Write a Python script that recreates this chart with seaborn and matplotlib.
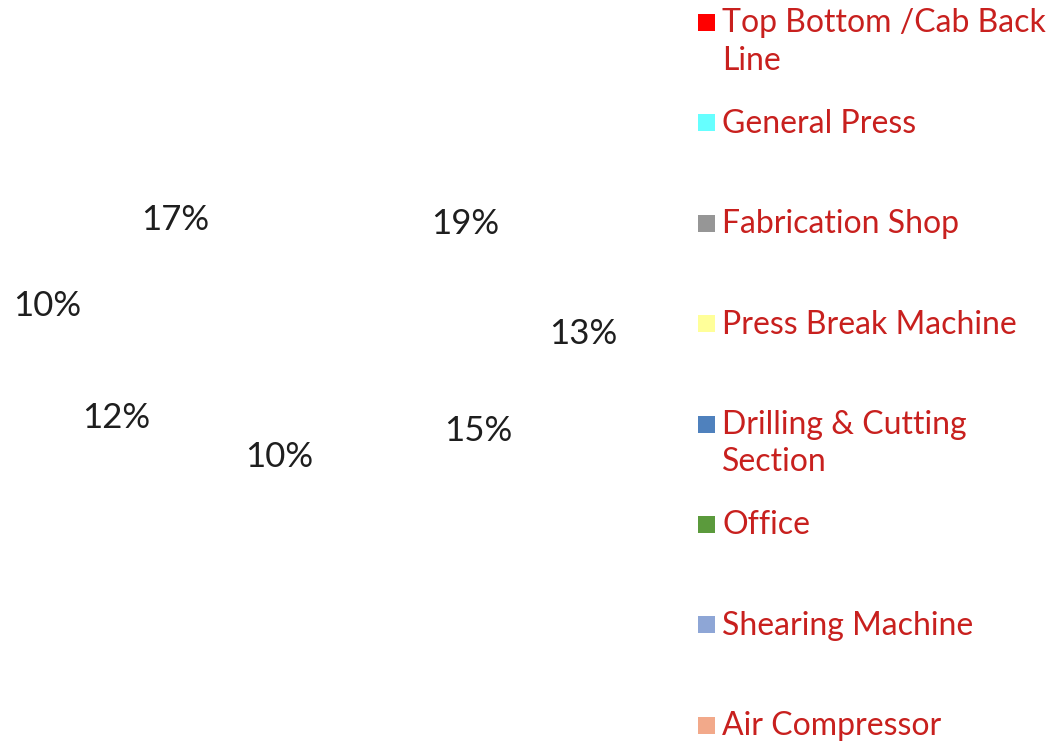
import matplotlib
matplotlib.use("Agg")
import matplotlib.pyplot as plt
import seaborn as sns
from matplotlib.patches import Rectangle

# 数据
categories = ['Top Bottom /Cab Back\nLine', 'General Press', 'Fabrication Shop',
              'Press Break Machine', 'Drilling & Cutting\nSection', 'Office',
              'Shearing Machine', 'Air Compressor']
values = [19, 13, 15, 10, 12, 4, 10, 17]
colors = ['#FF0000', '#66FFFF', '#969696', '#FFFF99',
          '#4F81BD', '#5B9A3C', '#8EA6D6', '#F2A98A']

sns.set_theme(style='white')
plt.rcParams['font.family'] = ['Lato', 'DejaVu Sans']

palette = sns.color_palette(colors)

W, H = 1051, 744
fig = plt.figure(figsize=(W / 100, H / 100), dpi=100)
fig.patch.set_facecolor('white')

# 饼图区域 (扁平, 类似3D饼图)
cx, cy = 313, 330
ax = fig.add_axes([(cx - 313) / W, (H - cy - 180) / H, 626 / W, 360 / H])


def fmt(p):
    return f'{p:.0f}%' if p >= 5 else ''


wedges, texts, autotexts = ax.pie(
    values, colors=palette, startangle=90, counterclock=False,
    autopct=fmt, pctdistance=0.8,
    wedgeprops=dict(alpha=0, linewidth=0),
    textprops=dict(fontsize=25, color='#1E1E1E'))
ax.set_aspect('auto')
ax.set_xlim(-0.927, 0.927)
ax.set_ylim(-1.125, 1.125)
ax.axis('off')

# 图例 (固定间距)
step = 100.4
for i, (name, c) in enumerate(zip(categories, palette)):
    yc = 22.5 + i * step
    fig.add_artist(Rectangle((698 / W, 1 - (yc + 8.5) / H), 17 / W, 17 / H,
                             transform=fig.transFigure, facecolor=c,
                             edgecolor='none'))
    fig.text(722 / W, 1 - (yc - 14) / H, name, ha='left', va='top',
             fontsize=23, color='#C8201E', linespacing=1.3)

fig.savefig('out.png', dpi=100, facecolor='white')
